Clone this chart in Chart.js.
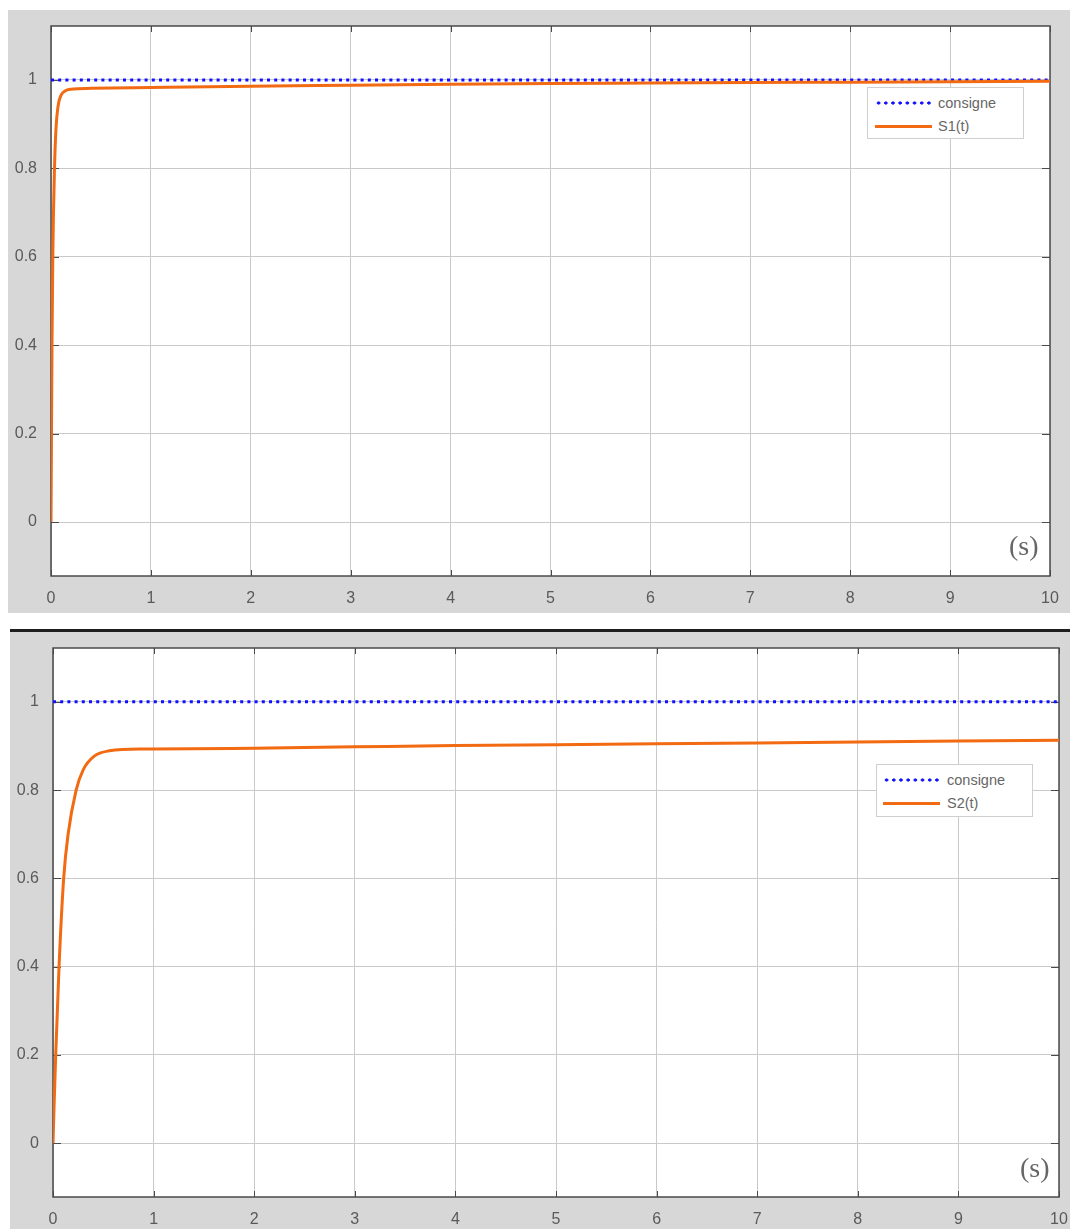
<!DOCTYPE html>
<html>
<head>
<meta charset="utf-8">
<script src="https://cdn.jsdelivr.net/npm/chart.js@4.4.0/dist/chart.umd.min.js"></script>
<style>
  body { margin: 0; background: #fff; width: 1070px; height: 1229px; position: relative; overflow: hidden; font-family: "Liberation Sans", Arial, sans-serif; }
  .panel { position: absolute; background: #d7d7d7; }
  .sep { position: absolute; left: 10px; top: 629px; width: 1060px; height: 3px; background: #1e1e1e; }
  .legend { position: absolute; background: #fff; border: 1px solid #cfcfcf; font-size: 14.5px; color: #666; }
  .row { position: absolute; left: 0; height: 20px; line-height: 20px; white-space: nowrap; }
  .dots { position: absolute; height: 4px; width: 58px; top: 8px;
          background-image: radial-gradient(circle, #1010ff 1.4px, transparent 1.8px);
          background-size: 7.2px 4px; background-repeat: repeat-x; }
  .solid { position: absolute; height: 3px; width: 57px; top: 9px; background: #f26a12; }
  .lbl { position: absolute; }
  .unit { position: absolute; font-family: "Liberation Serif", "Times New Roman", serif; font-size: 28px; color: #666; }
</style>
</head>
<body>
<div class="panel" style="left:8px; top:10px; width:1062px; height:603px;">
  <canvas id="chart1" width="1062" height="603"></canvas>
</div>
<div class="sep"></div>
<div class="panel" style="left:10px; top:632px; width:1060px; height:597px;">
  <canvas id="chart2" width="1060" height="597"></canvas>
</div>

<div class="legend" style="left:867px; top:87px; width:155px; height:50px;">
  <div class="row" style="top:5px; width:155px;"><div class="dots" style="left:7px;"></div><span class="lbl" style="left:70px;">consigne</span></div>
  <div class="row" style="top:28px; width:155px;"><div class="solid" style="left:7px;"></div><span class="lbl" style="left:70px;">S1(t)</span></div>
</div>
<div class="legend" style="left:876px; top:764px; width:155px; height:51px;">
  <div class="row" style="top:5px; width:155px;"><div class="dots" style="left:6px;"></div><span class="lbl" style="left:70px;">consigne</span></div>
  <div class="row" style="top:28px; width:155px;"><div class="solid" style="left:6px;"></div><span class="lbl" style="left:70px;">S2(t)</span></div>
</div>

<div class="unit" style="left:1009px; top:530px;">(s)</div>
<div class="unit" style="left:1020px; top:1152px;">(s)</div>

<script>
// set point (consigne)
const consigneT = [0, 10];
const consigneY = [1, 1];

// response S1(t)
const s1T = [0, 0.005, 0.01, 0.018, 0.035, 0.05, 0.07, 0.1, 0.14, 0.2, 0.4, 1, 2, 3, 4, 5, 6, 7, 8, 9, 10];
const s1Y = [0, 0.2, 0.4, 0.6, 0.8, 0.89, 0.94, 0.965, 0.975, 0.979, 0.981, 0.983, 0.986, 0.988, 0.990, 0.992, 0.993, 0.994, 0.995, 0.996, 0.997];

// response S2(t)
const s2T = [0, 0.01, 0.027, 0.06, 0.106, 0.15, 0.23, 0.3, 0.41, 0.56, 0.86, 1, 2, 3, 4, 5, 6, 7, 8, 9, 10];
const s2Y = [0, 0.08, 0.2, 0.4, 0.6, 0.7, 0.8, 0.846, 0.877, 0.889, 0.893, 0.893, 0.895, 0.898, 0.901, 0.903, 0.905, 0.907, 0.909, 0.911, 0.913];

const yTicks = [0, 0.2, 0.4, 0.6, 0.8, 1];
const xTicks = [0, 1, 2, 3, 4, 5, 6, 7, 8, 9, 10];

const toPoints = (ts, ys) => ts.map((t, i) => ({ x: t, y: ys[i] }));

// white axes background, box round it and MATLAB-like inward ticks
const boxPlugin = {
    id: 'box',
    beforeDraw(chart) {
        const a = chart.chartArea;
        chart.ctx.save();
        chart.ctx.fillStyle = '#ffffff';
        chart.ctx.fillRect(a.left, a.top, a.right - a.left, a.bottom - a.top);
        chart.ctx.restore();
    },
    beforeDatasetsDraw(chart) {
        const ctx = chart.ctx;
        const a = chart.chartArea;
        const xs = chart.scales.x;
        const ys = chart.scales.y;
        ctx.save();
        ctx.strokeStyle = '#4a4a4a';
        ctx.lineWidth = 1;
        xTicks.forEach(v => {
            const px = Math.round(xs.getPixelForValue(v)) + 0.5;
            ctx.beginPath();
            ctx.moveTo(px, a.bottom); ctx.lineTo(px, a.bottom - 6);
            ctx.moveTo(px, a.top); ctx.lineTo(px, a.top + 6);
            ctx.stroke();
        });
        yTicks.forEach(v => {
            const py = Math.round(ys.getPixelForValue(v)) + 0.5;
            ctx.beginPath();
            ctx.moveTo(a.left, py); ctx.lineTo(a.left + 8, py);
            ctx.moveTo(a.right, py); ctx.lineTo(a.right - 8, py);
            ctx.stroke();
        });
        ctx.lineWidth = 1.5;
        ctx.strokeRect(a.left, a.top, a.right - a.left, a.bottom - a.top);
        ctx.restore();
    }
};

function makeChart(id, label, ts, ys, padRight, xHeight) {
    return new Chart(document.getElementById(id), {
        type: 'line',
        data: {
            datasets: [
                {
                    label: 'consigne',
                    data: toPoints(consigneT, consigneY),
                    borderColor: '#1010ff',
                    borderWidth: 3,
                    borderDash: [3, 4.2],
                    pointRadius: 0,
                    order: 2
                },
                {
                    label: label,
                    data: toPoints(ts, ys),
                    borderColor: '#f26a12',
                    borderWidth: 3,
                    pointRadius: 0,
                    cubicInterpolationMode: 'monotone',
                    order: 1
                }
            ]
        },
        options: {
            responsive: false,
            animation: false,
            layout: { padding: { top: 16, right: padRight, left: 0, bottom: 0 } },
            plugins: { legend: { display: false }, tooltip: { enabled: false } },
            scales: {
                x: {
                    type: 'linear',
                    min: 0,
                    max: 10,
                    afterBuildTicks: s => { s.ticks = xTicks.map(v => ({ value: v })); },
                    afterFit: s => { s.height = xHeight; s.paddingLeft = 0; s.paddingRight = 0; },
                    grid: { color: '#c9c9c9', drawTicks: false },
                    border: { display: false },
                    ticks: {
                        padding: 13,
                        color: '#5a5a5a',
                        font: { family: 'Liberation Sans', size: 16 },
                        maxRotation: 0,
                        callback: v => String(v)
                    }
                },
                y: {
                    min: -0.122,
                    max: 1.122,
                    afterBuildTicks: s => { s.ticks = yTicks.map(v => ({ value: v })); },
                    afterFit: s => { s.width = 43; s.paddingTop = 0; s.paddingBottom = 0; },
                    grid: { color: '#c9c9c9', drawTicks: false },
                    border: { display: false },
                    ticks: {
                        padding: 14,
                        color: '#5a5a5a',
                        font: { family: 'Liberation Sans', size: 16 },
                        callback: v => String(Math.round(v * 10) / 10)
                    }
                }
            }
        },
        plugins: [boxPlugin]
    });
}

makeChart('chart1', 'S1(t)', s1T, s1Y, 20, 37);
makeChart('chart2', 'S2(t)', s2T, s2Y, 11, 32);
</script>
</body>
</html>
